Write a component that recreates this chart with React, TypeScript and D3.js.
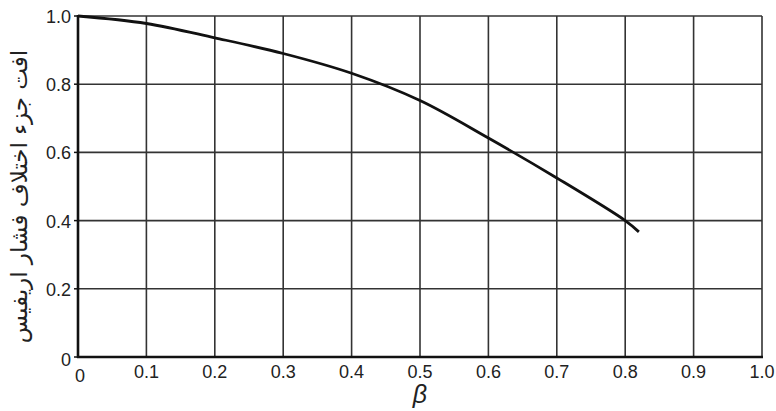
import React from 'react';
import * as d3 from 'd3';

const betaValues = [0, 0.1, 0.2, 0.3, 0.4, 0.5, 0.6, 0.7, 0.8, 0.82];
const lossValues = [1.0, 0.978, 0.936, 0.89, 0.832, 0.752, 0.642, 0.525, 0.4, 0.367];
const xTicks = [0, 0.1, 0.2, 0.3, 0.4, 0.5, 0.6, 0.7, 0.8, 0.9, 1.0];
const yTicks = [0, 0.2, 0.4, 0.6, 0.8, 1.0];
const xTickLabels = ['0', '0.1', '0.2', '0.3', '0.4', '0.5', '0.6', '0.7', '0.8', '0.9', '1.0'];
const yTickLabels = ['0', '0.2', '0.4', '0.6', '0.8', '1.0'];
const yTitle = 'افت جزء اختلاف فشار اریفیس';
const xTitle = 'β';

export default function App() {
  const width = 776;
  const height = 411;

  const x = d3.scaleLinear().domain([0, 1]).range([78, 762]);
  const y = d3.scaleLinear().domain([0, 1]).range([357, 16]);

  const points = betaValues.map((b, i) => [b, lossValues[i]] as [number, number]);
  const line = d3.line<[number, number]>()
    .x(d => x(d[0]))
    .y(d => y(d[1]))
    .curve(d3.curveCatmullRom);

  return (
    <svg width={width} height={height}
      style={{ position: 'absolute', left: 0, top: 0, background: '#fff' }}
      fontFamily="Liberation Sans, Arial, sans-serif">
      {/* grid */}
      <g stroke="#333" strokeWidth={1.6}>
        {xTicks.slice(1).map(t => (
          <line key={'gx' + t} x1={x(t)} x2={x(t)} y1={y(0)} y2={y(1)} />
        ))}
        {yTicks.slice(1).map(t => (
          <line key={'gy' + t} x1={x(0)} x2={x(1)} y1={y(t)} y2={y(t)} />
        ))}
      </g>
      {/* axes */}
      <g stroke="#111" strokeWidth={2.6}>
        <line x1={x(0)} x2={x(0)} y1={y(0) + 1} y2={y(1) - 1} />
        <line x1={x(0) - 1} x2={x(1) + 1} y1={y(0)} y2={y(0)} />
        {yTicks.map(t => (
          <line key={'ty' + t} x1={x(0) - 4} x2={x(0)} y1={y(t)} y2={y(t)} strokeWidth={1.5} />
        ))}
      </g>
      {/* curve */}
      <path d={line(points) || ''} fill="none" stroke="#111" strokeWidth={2.8} />
      {/* tick labels */}
      <g fontSize={18} fill="#222">
        {xTicks.map((t, i) => (
          <text key={'lx' + t} x={x(t) + (i === 0 ? 2 : 0)} y={y(0) + (i === 0 ? 25 : 21)} textAnchor="middle">
            {xTickLabels[i]}
          </text>
        ))}
        {yTicks.map((t, i) => (
          <text key={'ly' + t} x={x(0) - 7} y={y(t) + (i === 0 ? 9 : 7)} textAnchor="end">
            {yTickLabels[i]}
          </text>
        ))}
      </g>
      <text x={x(0.5)} y={y(0) + 46} textAnchor="middle" fontSize={25}
        fontStyle="italic" fill="#222">
        {xTitle}
      </text>
      <text transform={`translate(27, ${(y(0) + y(1)) / 2 + 10}) rotate(-90)`}
        textAnchor="middle" fontSize={23} fill="#222"
        fontFamily="DejaVu Sans, sans-serif" direction="rtl">
        {yTitle}
      </text>
    </svg>
  );
}
